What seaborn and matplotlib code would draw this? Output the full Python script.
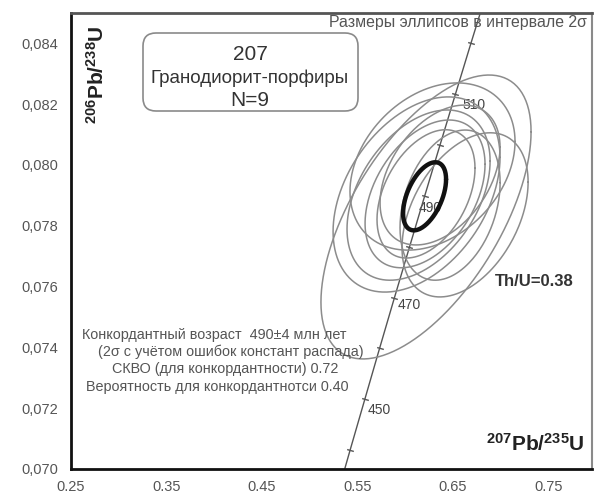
import numpy as np
import pandas as pd
import matplotlib
matplotlib.use("Agg")
import matplotlib.pyplot as plt
from matplotlib.patches import FancyBboxPatch
from matplotlib.transforms import IdentityTransform
from matplotlib.ticker import FixedLocator, MultipleLocator, FuncFormatter
import seaborn as sns

# Concordia nodes: age (Ma), 207Pb/235U, 206Pb/238U
conc_age = [430, 440, 450, 460, 470, 480, 490, 500, 510, 520, 530]
conc_x = [0.5273, 0.5424, 0.5577, 0.5731, 0.5886, 0.6044, 0.6202, 0.6363, 0.6525, 0.6688, 0.6853]
conc_y = [0.06898, 0.07064, 0.07230, 0.07397, 0.07563, 0.07730, 0.07897, 0.08065, 0.08233, 0.08401, 0.08569]
labelled_ages = [450, 470, 490, 510]

# Zircon analyses: 207Pb/235U, 2σ, 206Pb/238U, 2σ, error correlation
spot_x = [0.6217, 0.6626, 0.6118, 0.6139, 0.6207, 0.6217, 0.6285, 0.6469, 0.6364]
spot_sx = [0.1100, 0.0660, 0.0874, 0.0749, 0.0628, 0.0513, 0.0864, 0.0524, 0.0628]
spot_y = [0.07829, 0.07836, 0.07903, 0.07901, 0.07905, 0.07905, 0.07995, 0.07868, 0.07967]
spot_sy = [0.00467, 0.00270, 0.00321, 0.00280, 0.00243, 0.00211, 0.00275, 0.00247, 0.00230]
spot_rho = [0.60, 0.40, 0.38, 0.40, 0.40, 0.40, 0.30, 0.30, 0.40]

# Concordia age ellipse (490 Ma)
cage_x, cage_sx = 0.6202, 0.0225
cage_y, cage_sy = 0.07897, 0.00112
cage_rho = 0.50

xticks = [0.25, 0.35, 0.45, 0.55, 0.65, 0.75]
yticks = [0.070, 0.072, 0.074, 0.076, 0.078, 0.080, 0.082, 0.084]

W, H = 597, 497

sns.set_style("white")
plt.rcParams["font.family"] = ["Liberation Sans", "DejaVu Sans"]
plt.rcParams["mathtext.fontset"] = "custom"
plt.rcParams["mathtext.rm"] = "Liberation Sans:bold"
plt.rcParams["mathtext.bf"] = "Liberation Sans:bold"
plt.rcParams["mathtext.default"] = "rm"

fig = plt.figure(figsize=(W / 100, H / 100), dpi=100)
ax = fig.add_axes([71 / W, 1 - 469 / H, (592 - 71) / W, (469 - 13) / H])


def ellipse_path(cx, sx, cy, sy, rho, n=241):
    t = np.linspace(0, 2 * np.pi, n)
    ex = cx + sx * np.cos(t)
    ey = cy + sy * (rho * np.cos(t) + np.sqrt(1 - rho ** 2) * np.sin(t))
    return pd.DataFrame({"x": ex, "y": ey, "t": t})


# Concordia curve with 10 Ma marks
conc = pd.DataFrame({"age": conc_age, "x": conc_x, "y": conc_y})
sns.lineplot(data=conc, x="x", y="y", sort=False, estimator=None,
             color="#555555", lw=1.0, ax=ax, zorder=2)
ax.plot(conc["x"], conc["y"], ls="none", marker=(2, 0, 74), ms=5,
        mew=1.0, color="#555555", zorder=2)

label_offsets = {450: (3, -11), 470: (3, -7), 490: (-6, -12), 510: (7, -11)}
for age in labelled_ages:
    row = conc[conc["age"] == age].iloc[0]
    ax.annotate(str(age), (row["x"], row["y"]), xytext=label_offsets[age],
                textcoords="offset pixels", ha="left", va="center",
                fontsize=10, color="#444444", zorder=1)

# Analysis ellipses
for i in range(len(spot_x)):
    e = ellipse_path(spot_x[i], spot_sx[i], spot_y[i], spot_sy[i], spot_rho[i])
    sns.lineplot(data=e, x="x", y="y", sort=False, estimator=None,
                 color="#8c8c8c", lw=1.1, ax=ax, zorder=3)

e = ellipse_path(cage_x, cage_sx, cage_y, cage_sy, cage_rho)
sns.lineplot(data=e, x="x", y="y", sort=False, estimator=None,
             color="#111111", lw=3.2, ax=ax, zorder=4)

ax.set_xlim(0.25, 0.7955)
ax.set_ylim(0.070, 0.085)
ax.xaxis.set_major_locator(FixedLocator(xticks))
ax.xaxis.set_minor_locator(MultipleLocator(0.05))
ax.yaxis.set_major_locator(FixedLocator(yticks))
ax.yaxis.set_minor_locator(MultipleLocator(0.001))
ax.xaxis.set_major_formatter(FuncFormatter(lambda v, p: f"{v:.2f}"))
ax.yaxis.set_major_formatter(FuncFormatter(lambda v, p: f"{v:.3f}".replace(".", ",")))
ax.tick_params(axis="both", which="both", direction="in", length=4, width=1.0,
               color="#333333", labelcolor="#555555", labelsize=10.5,
               top=False, right=False)
ax.tick_params(axis="x", which="major", pad=8)
ax.tick_params(axis="y", which="major", pad=9)
ax.set_xlabel("")
ax.set_ylabel("")

for side in ("left", "bottom"):
    ax.spines[side].set_linewidth(2.0)
    ax.spines[side].set_color("#111111")
ax.spines["top"].set_linewidth(2.0)
ax.spines["top"].set_color("#555555")
ax.spines["right"].set_linewidth(1.5)
ax.spines["right"].set_color("#8a8a8a")


def fx(px):
    return px / W


def fy(py):
    return 1 - py / H


# Sample label box
box = FancyBboxPatch((143, H - 111), 215, 78,
                     boxstyle="round,pad=0,rounding_size=13",
                     transform=IdentityTransform(), facecolor="white",
                     edgecolor="#8a8a8a", lw=1.2, zorder=5)
fig.patches.append(box)
fig.text(fx(250), fy(54), "207", ha="center", va="center",
         fontsize=15, color="#333333", zorder=6)
fig.text(fx(250), fy(78), "Гранодиорит-порфиры", ha="center", va="center",
         fontsize=13.5, color="#333333", zorder=6)
fig.text(fx(250), fy(100), "N=9", ha="center", va="center",
         fontsize=15, color="#333333", zorder=6)

fig.text(fx(587), fy(22), "Размеры эллипсов в интервале 2σ", ha="right",
         va="center", fontsize=11.4, color="#555555")

# Concordia age summary
summary = [
    "Конкордантный возраст  490±4 млн лет",
    "(2σ с учётом ошибок констант распада)",
    "СКВО (для конкордантности) 0.72",
    "Вероятность для конкордантнотси 0.40",
]
for line, px, py in zip(summary, [214, 231, 225, 217], [335, 352, 369, 387]):
    fig.text(fx(px), fy(py), line, ha="center", va="center",
             fontsize=10.4, color="#555555")

fig.text(fx(534), fy(282), "Th/U=0.38", ha="center", va="center",
         fontsize=12, fontweight="bold", color="#333333")

fig.text(fx(535), fy(444), r"$^{207}$Pb/$^{235}$U", ha="center", va="center",
         fontsize=15, fontweight="bold", color="#222222")
fig.text(fx(97), fy(75), r"$^{206}$Pb/$^{238}$U", ha="center", va="center",
         rotation=90, fontsize=15, fontweight="bold", color="#222222")

fig.savefig("out.png", dpi=100)
